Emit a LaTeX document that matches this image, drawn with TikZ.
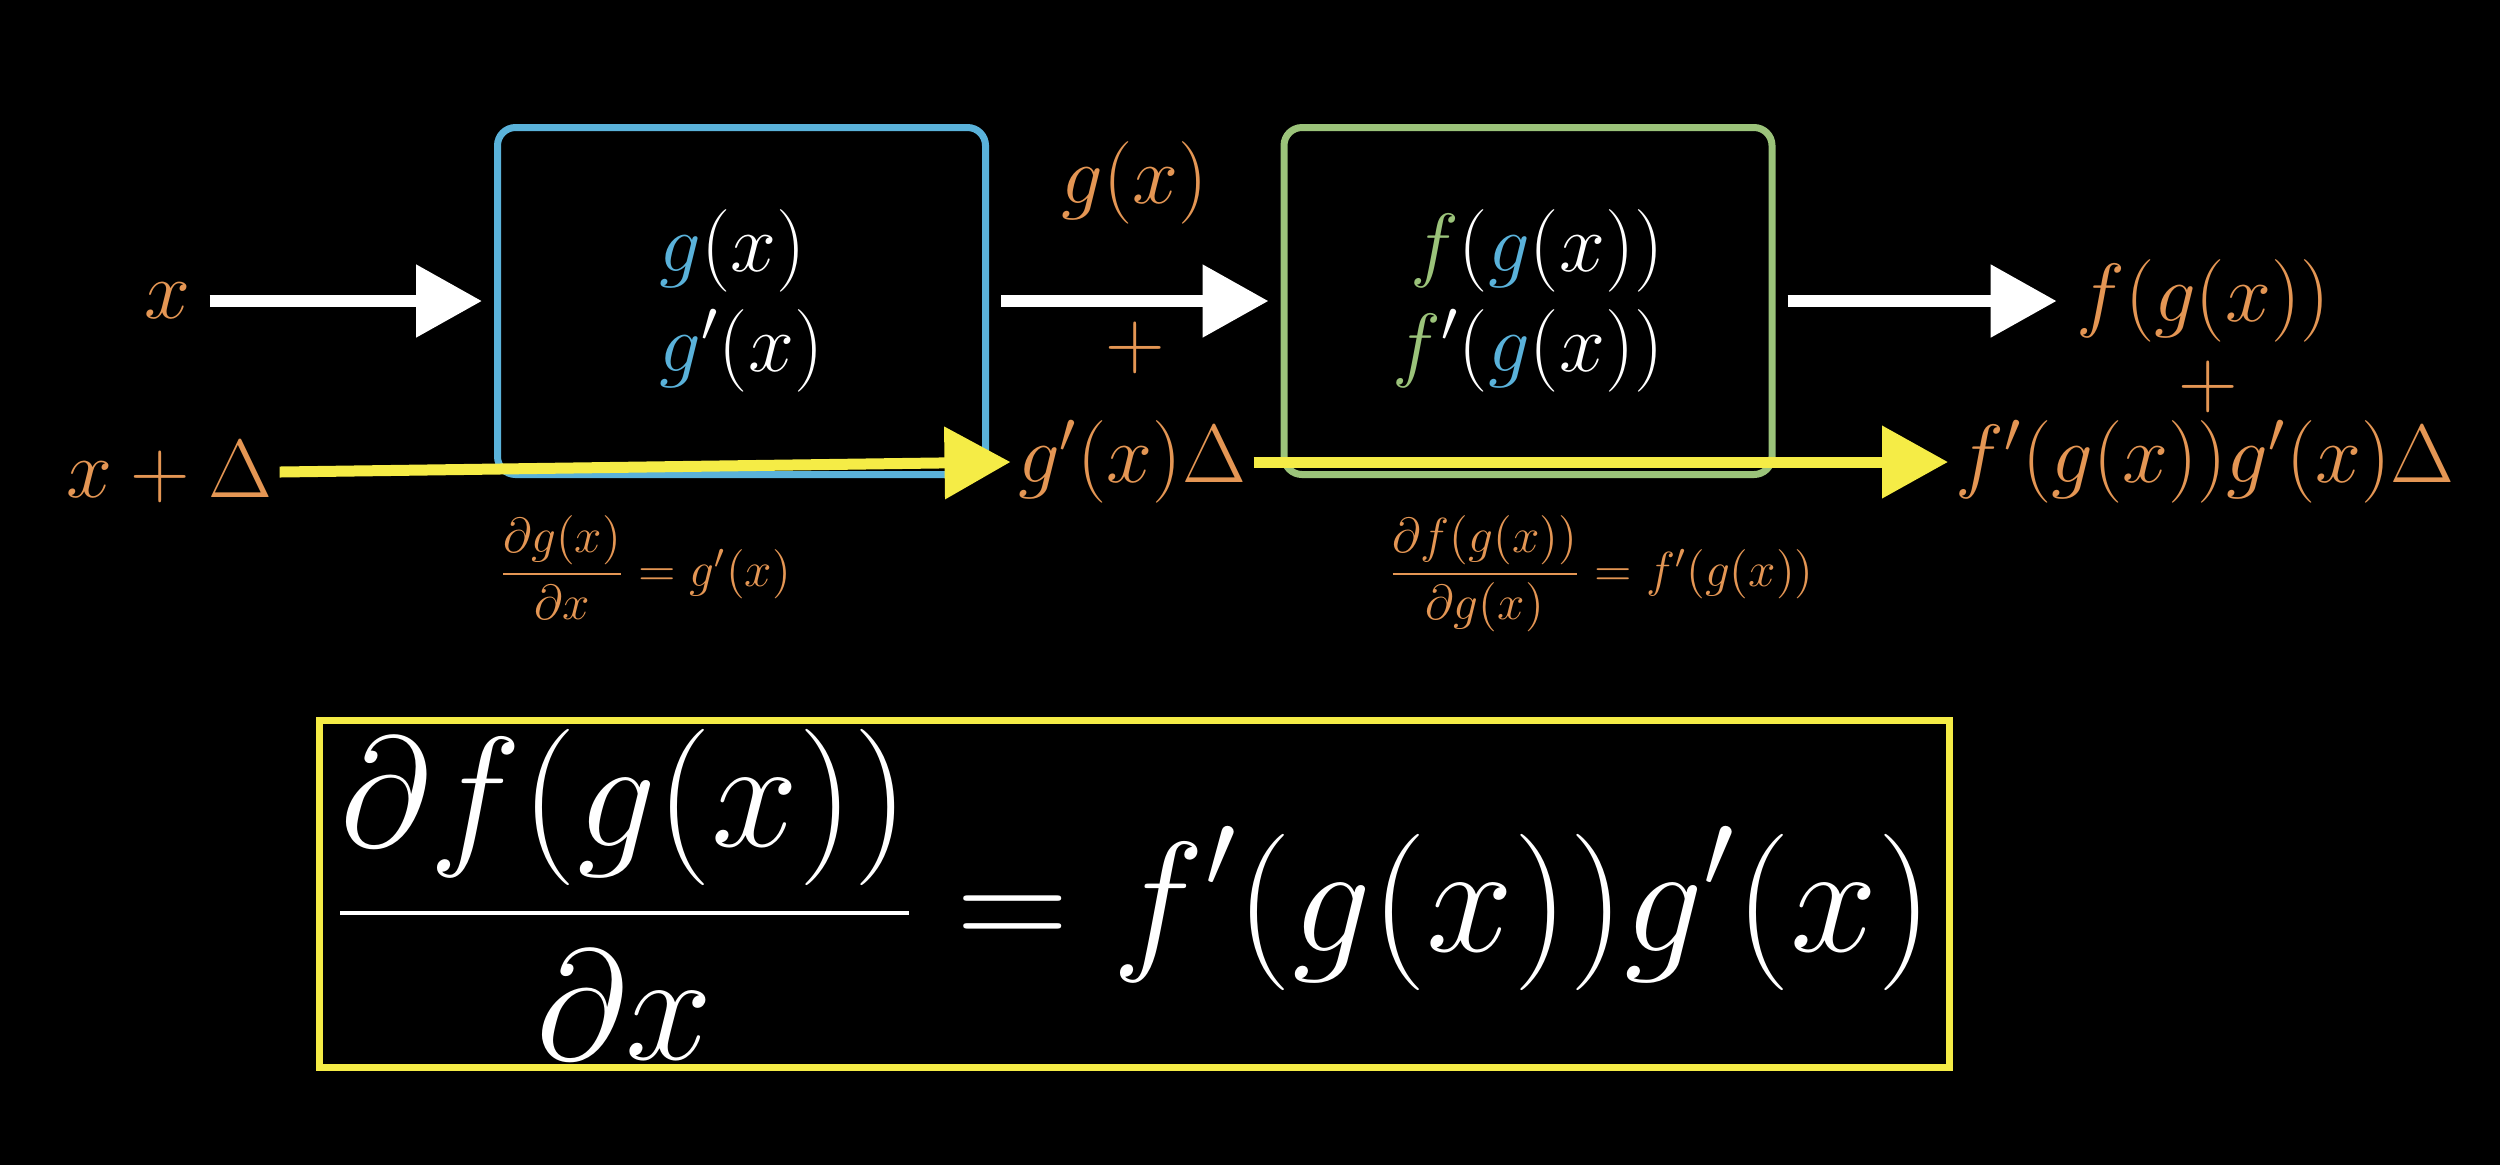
\RequirePackage{fix-cm}
\documentclass[tikz,border=0pt]{standalone}
\usepackage{amsmath}
\usetikzlibrary{arrows.meta}

\definecolor{dorange}{RGB}{228,150,84}
\definecolor{dblue}{RGB}{90,178,218}
\definecolor{dgreen}{RGB}{155,195,122}
\definecolor{dyellow}{RGB}{245,236,70}

\begin{document}
\begin{tikzpicture}[>={Triangle[length=0.66cm, width=0.7cm]},
  font=\fontsize{23.5}{28.5}\selectfont, text=white,
  lbl/.style={text=dorange, inner sep=0.07cm},
  stage/.style={draw, line width=0.07cm, rounded corners=0.18cm,
    minimum width=4.88cm, minimum height=3.47cm},
  flow/.style={->, white, line width=0.12cm, shorten <=0.12cm, shorten >=0.12cm},
  delta/.style={->, dyellow, line width=0.11cm},
  note/.style={text=dorange, font=\fontsize{14}{17}\selectfont}]
  \fill[black] (0,0) rectangle (25,-11.65);
  \useasboundingbox (0,0) rectangle (25,-11.65);

  % the two stages
  \node[stage, draw=dblue, align=left] (gstage) at (7.415,-3.01)
    {${\color{dblue}g}(x)$\\${\color{dblue}g}'(x)$};
  \node[stage, draw=dgreen, align=right] (fstage) at (15.28,-3.01)
    {${\color{dgreen}f}({\color{dblue}g}(x))$\\${\color{dgreen}f}'({\color{dblue}g}(x))$};

  % values along the chain
  \node[lbl] (xin) at (1.67,-3.01) {$x$};
  \node[lbl] (xdin) at (1.69,-4.72) {$x+\Delta$};
  \node[lbl] (gout) at (11.35,-1.83) {$g(x)$};
  \node[lbl] (gplus) at (11.35,-3.48) {$+$};
  \node[lbl] (gdout) at (11.32,-4.62) {$g'(x)\Delta$};
  \node[lbl] (fout) at (22.03,-3.01) {$f(g(x))$};
  \node[lbl] (fplus) at (22.08,-3.87) {$+$};
  \node[lbl] (fdout) at (22.05,-4.62) {$f'(g(x))g'(x)\Delta$};

  \node[note] (gnote) at (6.45,-5.68) {$\dfrac{\partial g(x)}{\partial x}=g'(x)$};
  \node[note] (fnote) at (16.01,-5.74) {$\dfrac{\partial f(g(x))}{\partial g(x)}=f'(g(x))$};

  \node[draw=dyellow, line width=0.07cm, inner sep=0pt,
    minimum width=16.3cm, minimum height=3.47cm,
    font=\fontsize{44.5}{52}\selectfont] (chain) at (11.345,-8.94)
    {$\displaystyle\frac{\partial f(g(x))}{\partial x}=f'(g(x))g'(x)$};

  \draw[flow] (xin.east) -- (gstage.west);
  \draw[flow] (gstage.east) -- (fstage.west);
  \draw[flow] (fstage.east) -- (fout.west);

  \draw[delta] (xdin.east) -- (gdout.west);
  \draw[delta] (gdout.east) -- (fdout.west);
\end{tikzpicture}
\end{document}
